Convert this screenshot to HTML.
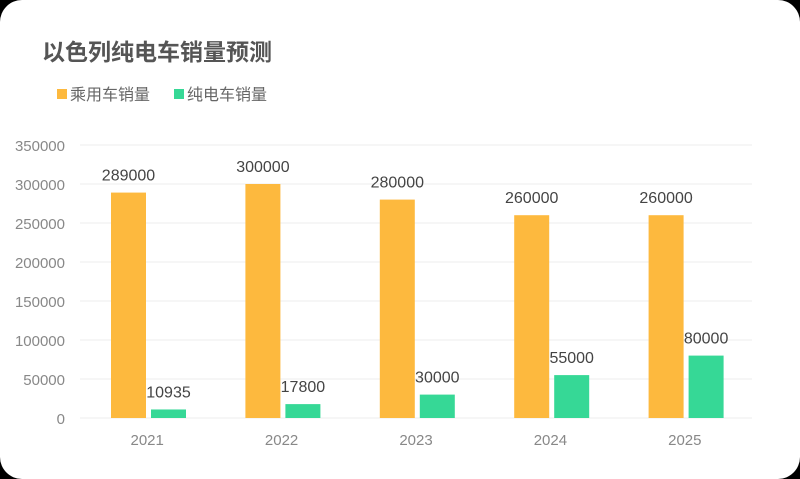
<!DOCTYPE html>
<html><head><meta charset="utf-8"><style>
body{margin:0;background:#000;width:800px;height:479px;overflow:hidden}
#card{position:absolute;left:0;top:0;width:800px;height:479px;background:#fff;border-radius:22px}
svg{position:absolute;left:0;top:0}
text{font-family:"Liberation Sans","Noto Sans CJK SC",sans-serif}
</style></head><body>
<div id="card">
<svg id="chart" width="800" height="479">
<text x="42" y="60" font-size="23" font-weight="bold" fill="#555">以色列纯电车销量预测</text>
<g>
<rect x="57" y="89" width="10" height="10" fill="#FDB93E"/>
<text x="70" y="100" font-size="16" fill="#666">乘用车销量</text>
<rect x="174" y="89" width="10" height="10" fill="#36D896"/>
<text x="187" y="100" font-size="16" fill="#666">纯电车销量</text>
</g>
</svg></div>
<script>
const categories=["2021","2022","2023","2024","2025"];
const passenger=[289000,300000,280000,260000,260000];
const ev=[10935,17800,30000,55000,80000];
const yTicks=[0,50000,100000,150000,200000,250000,300000,350000];
const svg=document.getElementById('chart');
const NS='http://www.w3.org/2000/svg';
const x0=80,x1=752,yBase=418,yTop=145,yMax=350000;
const band=(x1-x0)/categories.length;
function y(v){return yBase-(v/yMax)*(yBase-yTop);}
function mk(t,a){const e=document.createElementNS(NS,t);for(const k in a)e.setAttribute(k,a[k]);svg.appendChild(e);return e;}
yTicks.forEach(t=>{
 const l=mk('line',{x1:x0,x2:x1,y1:y(t),y2:y(t),stroke:'#eee','stroke-width':1});
 
 
 const tx=mk('text',{x:65,y:y(t)+6,'text-anchor':'end','font-size':15,fill:'#888'});
 tx.textContent=t;
 
 
});
categories.forEach((c,i)=>{
 const bx=x0+band*i;
 const tx=mk('text',{x:bx+band/2,y:445,'text-anchor':'middle','font-size':15,fill:'#888'});
 tx.textContent=c;
 
 
 [[passenger[i],'#FDB93E',31,'passenger'],[ev[i],'#36D896',71,'ev']].forEach(s=>{
  const r=mk('rect',{x:bx+s[2],y:y(s[0]),width:35,height:yBase-y(s[0]),fill:s[1]});
  
  
  const lb=mk('text',{x:bx+s[2]+17.5,y:y(s[0])-12,'text-anchor':'middle','font-size':16,fill:'#444'});
  lb.textContent=s[0];
  
  
 });
});
</script>
</body></html>
